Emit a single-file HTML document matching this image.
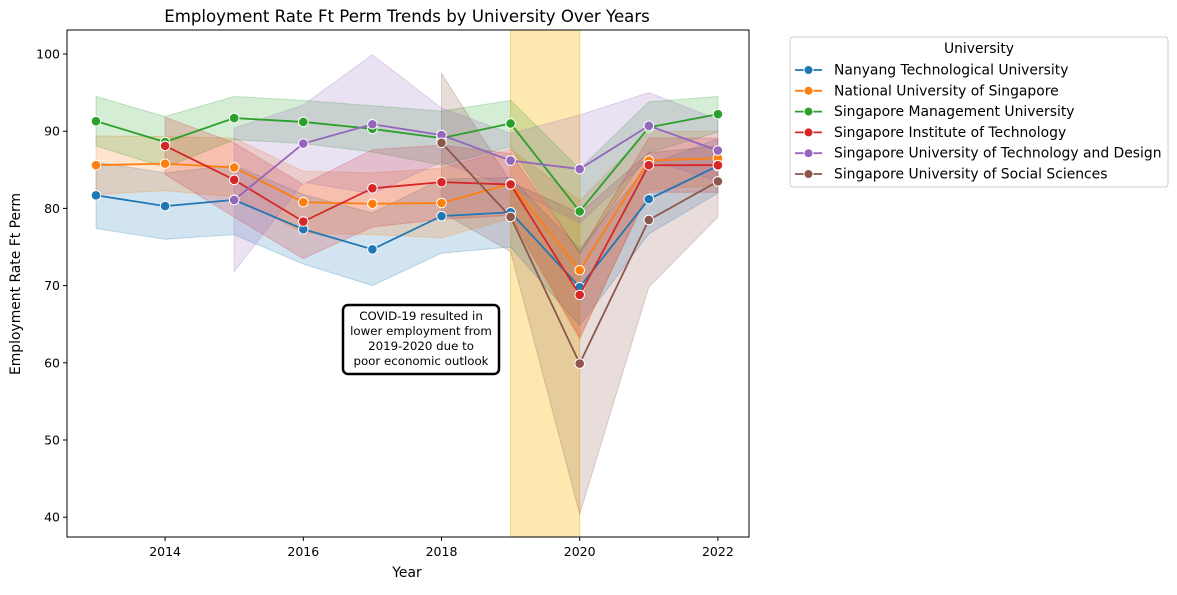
<!DOCTYPE html>
<html><head><meta charset="utf-8">
<style>
body{margin:0;background:#fff;font-family:"Liberation Sans","DejaVu Sans",sans-serif;}
svg text{font-family:"DejaVu Sans","Liberation Sans",sans-serif;}
</style></head>
<body>
<svg id="chart" width="1177" height="590">
<text x="407" y="22" text-anchor="middle" font-size="16.6">Employment Rate Ft Perm Trends by University Over Years</text>
<g id="plot"></g>
<rect x="67" y="30" width="682" height="507" fill="none" stroke="#000" stroke-width="1"/>
<text x="407" y="577" text-anchor="middle" font-size="13.9">Year</text>
<text transform="translate(20,284) rotate(-90)" text-anchor="middle" font-size="13.9">Employment Rate Ft Perm</text>
<g>
<rect x="343" y="305" width="156" height="69" rx="5" fill="#fff" stroke="#000" stroke-width="2.5"/>
<text x="421" y="320" text-anchor="middle" font-size="11.8">COVID-19 resulted in</text>
<text x="421" y="335" text-anchor="middle" font-size="11.8">lower employment from</text>
<text x="421" y="350" text-anchor="middle" font-size="11.8">2019-2020 due to</text>
<text x="421" y="365" text-anchor="middle" font-size="11.8">poor economic outlook</text>
</g>
<g id="legend">
<rect x="790" y="37" width="378" height="150" rx="3" fill="#fff" stroke="#ccc"/>
<text x="979" y="53" text-anchor="middle" font-size="13.9">University</text>
</g>
</svg>
<script>
const years=[2013,2014,2015,2016,2017,2018,2019,2020,2021,2022];
const names=["Nanyang Technological University","National University of Singapore","Singapore Management University","Singapore Institute of Technology","Singapore University of Technology and Design","Singapore University of Social Sciences"];
const colors=["#1f77b4","#ff7f0e","#2ca02c","#d62728","#9467bd","#8c564b"];
const ntu=[81.7,80.3,81.1,77.3,74.7,79.0,79.5,69.8,81.2,85.5];
const ntuErr=[4.3,4.3,4.5,4.5,4.7,4.8,4.5,5,4.5,3.5];
const nus=[85.6,85.8,85.3,80.8,80.6,80.7,83.2,72.0,86.2,86.5];
const nusErr=[3.8,3.5,3.8,4,4,4.5,4.5,9,3.8,3.5];
const smu=[91.3,88.6,91.7,91.2,90.3,89.1,91.0,79.6,90.5,92.2];
const smuErr=[3.2,3.3,2.8,2.8,3,3.5,3,5.5,3.3,2.3];
const sit=[null,88.1,83.7,78.3,82.6,83.4,83.1,68.8,85.6,85.6];
const sitErr=[null,3.7,4.8,4.8,5,4.8,4,5.5,3.5,3.5];
const sutd=[null,null,81.1,88.4,90.9,89.5,86.2,85.1,90.7,87.5];
const sutdErr=[null,null,9.3,5,9,3.5,3.5,7,4.3,4];
const suss=[null,null,null,null,null,88.5,78.9,59.9,78.5,83.5];
const sussErr=[null,null,null,null,null,9,4.5,19.5,8.7,4.6];
const xTicks=[2014,2016,2018,2020,2022];
const yTicks=[40,50,60,70,80,90,100];
const series=[ntu,nus,smu,sit,sutd,suss];
const errs=[ntuErr,nusErr,smuErr,sitErr,sutdErr,sussErr];
const X=y=>96+(y-2013)*69.1;
const Y=v=>54+(100-v)*7.72;
const NS="http://www.w3.org/2000/svg";
const svg=document.getElementById('chart');
const plot=document.getElementById('plot');
function mk(tag,attrs,parent){const e=document.createElementNS(NS,tag);for(const k in attrs)e.setAttribute(k,attrs[k]);(parent||plot).appendChild(e);return e;}
const hl=mk('rect',{x:X(2019),y:30,width:X(2020)-X(2019),height:507,fill:'rgba(252,215,110,0.55)',stroke:'rgba(240,180,40,0.5)'});


series.forEach((s,i)=>{
 const up=[],lo=[];
 s.forEach((v,j)=>{if(v!==null){up.push(X(years[j])+','+Y(v+errs[i][j]));lo.unshift(X(years[j])+','+Y(v-errs[i][j]));}});
 const p=mk('polygon',{points:up.concat(lo).join(' '),fill:colors[i],'fill-opacity':0.2,stroke:colors[i],'stroke-opacity':0.25});
 
 
});
series.forEach((s,i)=>{
 const pts=[];s.forEach((v,j)=>{if(v!==null)pts.push(X(years[j])+','+Y(v));});
 const l=mk('polyline',{points:pts.join(' '),fill:'none',stroke:colors[i],'stroke-width':1.8});
 
 
 s.forEach((v,j)=>{if(v===null)return;
  const c=mk('circle',{cx:X(years[j]),cy:Y(v),r:4.8,fill:colors[i],stroke:'#fff','stroke-width':1});
  
  
 });
});
xTicks.forEach(t=>{
 mk('line',{x1:X(t),x2:X(t),y1:537,y2:541,stroke:'#000'},svg);
 const tx=mk('text',{x:X(t),y:556,'text-anchor':'middle','font-size':12.5},svg);tx.textContent=t;
 
 
});
yTicks.forEach(t=>{
 mk('line',{x1:63,x2:67,y1:Y(t),y2:Y(t),stroke:'#000'},svg);
 const tx=mk('text',{x:60,y:Y(t)+4.5,'text-anchor':'end','font-size':12.5},svg);tx.textContent=t;
 
 
});
const lg=document.getElementById('legend');
names.forEach((n,i)=>{
 const y=70+i*20.8;
 mk('line',{x1:795,x2:822,y1:y,y2:y,stroke:colors[i],'stroke-width':1.8},lg);
 mk('circle',{cx:808.5,cy:y,r:4.5,fill:colors[i],stroke:'#fff'},lg);
 const t=mk('text',{x:834,y:y+4.5,'font-size':13.9},lg);t.textContent=n;
 
 
});
</script>
</body></html>
